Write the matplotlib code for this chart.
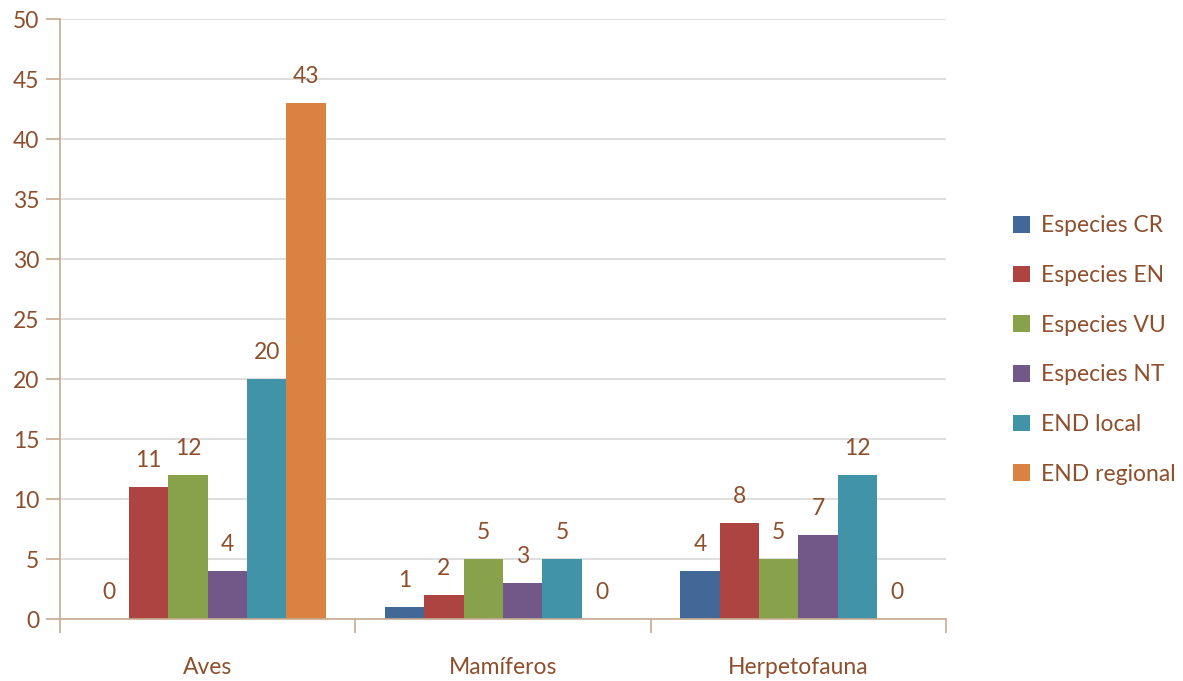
import matplotlib
matplotlib.use("Agg")
import matplotlib.pyplot as plt
from matplotlib.patches import Patch
import numpy as np

categories = ["Aves", "Mamíferos", "Herpetofauna"]
series = ["Especies CR", "Especies EN", "Especies VU", "Especies NT", "END local", "END regional"]
values = {
    "Especies CR": [0, 1, 4],
    "Especies EN": [11, 2, 8],
    "Especies VU": [12, 5, 5],
    "Especies NT": [4, 3, 7],
    "END local": [20, 5, 12],
    "END regional": [43, 0, 0],
}
colors = ["#426898", "#AE4442", "#87A24A", "#715889", "#4193A8", "#D98241"]
yticks = [0, 5, 10, 15, 20, 25, 30, 35, 40, 45, 50]

txt = "#8E4F2C"
axc = "#C6AC90"
plt.rcParams['font.family'] = ['Lato', 'DejaVu Sans']
fs = 16.5

fig = plt.figure(figsize=(11.83, 6.81), dpi=100)
ax = fig.add_axes([60/1183, 1-619/681, (946-60)/1183, 600/681])

n = len(series)
w = 0.8 / n
x = np.arange(len(categories))
for i, s in enumerate(series):
    pos = x - 0.4 + w * (i + 0.5)
    ax.bar(pos, values[s], width=w, color=colors[i], zorder=3, linewidth=0)
    for p, v in zip(pos, values[s]):
        ax.text(p, v + 1.3, str(v), ha="center", va="bottom", color=txt, fontsize=fs)

ax.set_xlim(-0.5, len(categories) - 0.5)
ax.set_ylim(0, 50)
ax.set_yticks(yticks)
ax.set_yticklabels([str(t) for t in yticks], color=txt, fontsize=fs)
ax.yaxis.grid(True, color="#D9D9D9", linewidth=1.2, zorder=0)
ax.tick_params(axis="y", length=10, color=axc, width=1.2, pad=5)

ax.set_xticks(np.arange(-0.5, len(categories)), minor=False)
ax.set_xticklabels([])
ax.set_xticks(x, minor=True)
ax.set_xticklabels(categories, minor=True, color=txt, fontsize=fs)
ax.tick_params(axis="x", which="major", length=10, color=axc, width=1.2)
ax.tick_params(axis="x", which="minor", length=0, pad=27)

for sp in ["top", "right"]:
    ax.spines[sp].set_visible(False)
for sp in ["left", "bottom"]:
    ax.spines[sp].set_color(axc)
    ax.spines[sp].set_linewidth(1.2)
    ax.spines[sp].set_zorder(4)

handles = [Patch(facecolor=c, edgecolor="none") for c in colors]
leg = fig.legend(handles, series, loc="center left", bbox_to_anchor=(992/1183, 1-350/681),
                 frameon=False, fontsize=fs, labelspacing=1.25, handlelength=0.75,
                 handleheight=0.75, handletextpad=0.5)
for t in leg.get_texts():
    t.set_color(txt)

fig.savefig("out.png", dpi=100)
